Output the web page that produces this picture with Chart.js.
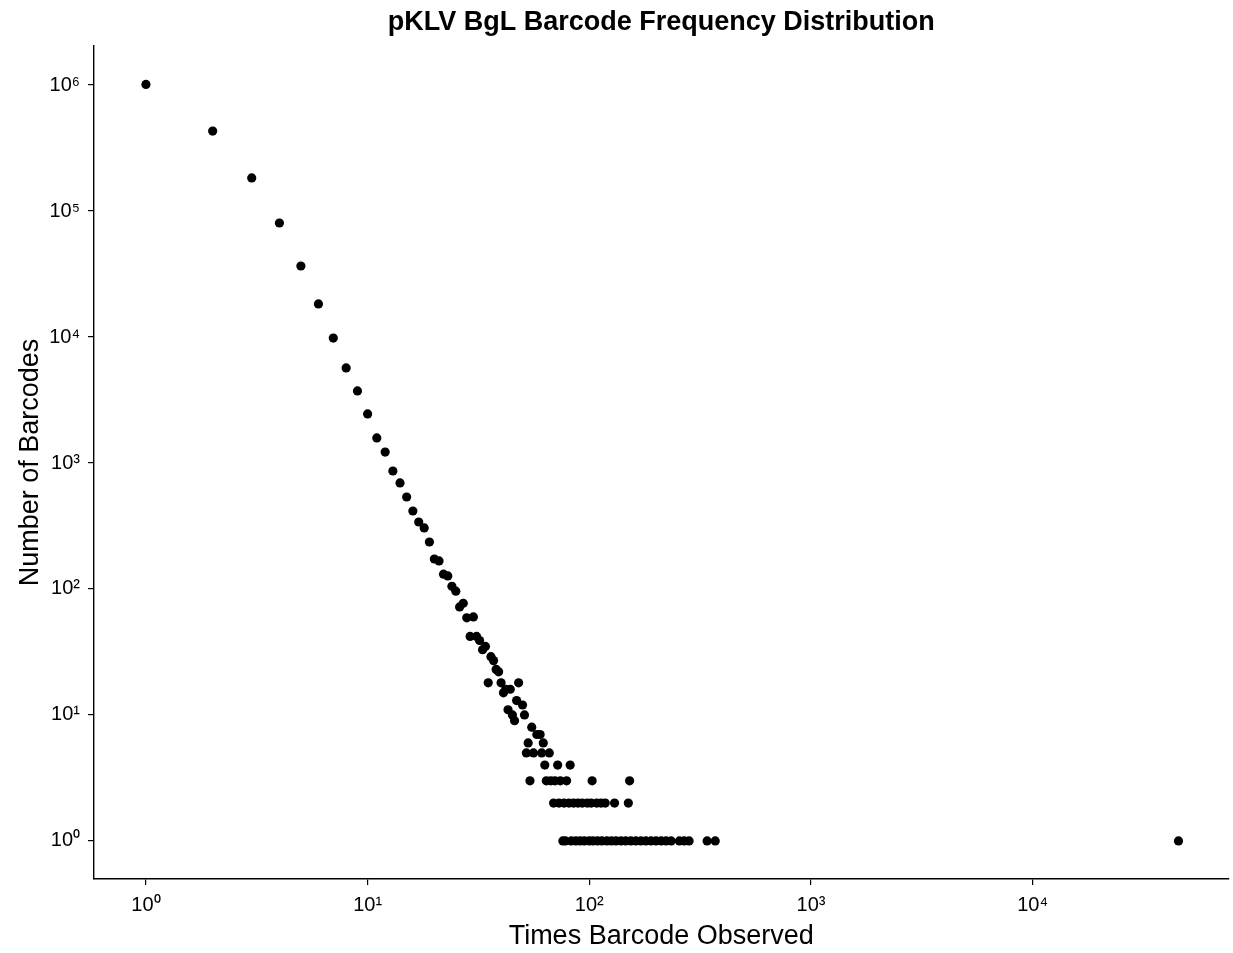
<!DOCTYPE html>
<html>
<head>
<meta charset="utf-8">
<script src="https://cdn.jsdelivr.net/npm/chart.js@4.4.1/dist/chart.umd.min.js"></script>
<style>
    html, body { margin: 0; padding: 0; background: #fff; }
    #wrap { width: 1233px; height: 953px; }
</style>
</head>
<body>
<div id="wrap"><canvas id="freqChart" width="1233" height="953"></canvas></div>
<script>
const plotTitle = 'pKLV BgL Barcode Frequency Distribution';
const xTitle = 'Times Barcode Observed';
const yTitle = 'Number of Barcodes';

// times a barcode was seen -> how many barcodes were seen that often
const timesObserved = [
    1, 2, 3, 4, 5, 6, 7, 8, 9, 10,
    11, 12, 13, 14, 15, 16, 17, 18, 19, 20,
    21, 22, 23, 24, 25, 26, 27, 28, 29, 30,
    31, 32, 33, 34, 35, 36, 37, 38, 39, 40,
    41, 42, 43, 44, 45, 46, 47, 48, 50, 51,
    52, 53, 54, 55, 56, 58, 60, 61, 62, 63,
    64, 66, 67, 69, 70, 72, 73, 74, 76, 77,
    78, 79, 81, 82, 83, 85, 87, 89, 91, 93,
    95, 98, 100, 102, 103, 104, 108, 109, 113, 114,
    118, 120, 126, 130, 132, 139, 146, 150, 152, 154,
    162, 171, 180, 190, 200, 211, 222, 234, 255, 268,
    282, 340, 370, 45500
];
const numBarcodes = [
    1010000, 431000, 183000, 80300, 36600, 18300, 9800, 5680, 3730, 2450,
    1580, 1220, 864, 694, 537, 416, 340, 305, 236, 173,
    167, 131, 127, 105, 96, 72, 77, 59, 42, 60,
    42, 39, 33, 35, 18, 29, 27, 23, 22, 18,
    15, 16, 11, 16, 10, 9, 13, 18, 12, 10,
    5, 6, 3, 8, 5, 7, 7, 5, 6, 4,
    3, 5, 3, 2, 3, 4, 2, 3, 1, 2,
    1, 3, 2, 4, 1, 2, 1, 2, 1, 2,
    1, 2, 1, 2, 3, 1, 2, 1, 2, 1,
    2, 1, 1, 2, 1, 1, 1, 2, 3, 1,
    1, 1, 1, 1, 1, 1, 1, 1, 1, 1,
    1, 1, 1, 1
];

const xTicks = [1, 10, 100, 1000, 10000];
const yTicks = [1, 10, 100, 1000, 10000, 100000, 1000000];

const FONT = '"Liberation Sans", Arial, Helvetica, sans-serif';
const SUP = ['⁰', '¹', '²', '³', '⁴', '⁵', '⁶', '⁷', '⁸', '⁹'];

function powLabel(value) {
    const exp = Math.round(Math.log10(value));
    return '10' + String(exp).split('').map(d => SUP[+d]).join('');
}

// draw the title centred over the panel, like ggplot does
const panelTitle = {
    id: 'panelTitle',
    afterDraw(chart) {
        const { ctx, chartArea } = chart;
        ctx.save();
        ctx.font = 'bold 27px ' + FONT;
        ctx.fillStyle = '#000';
        ctx.textAlign = 'center';
        ctx.textBaseline = 'middle';
        ctx.fillText(plotTitle, (chartArea.left + chartArea.right) / 2, 23);
        ctx.restore();
    }
};

const points = timesObserved.map((t, i) => ({ x: t, y: numBarcodes[i] }));

new Chart(document.getElementById('freqChart'), {
    type: 'scatter',
    data: {
        datasets: [{
            data: points,
            pointRadius: 4.6,
            pointHoverRadius: 4.6,
            pointBackgroundColor: '#000',
            pointBorderWidth: 0
        }]
    },
    options: {
        responsive: false,
        animation: false,
        layout: {
            padding: { top: 46, right: 3, left: 0, bottom: 0 }
        },
        scales: {
            x: {
                type: 'logarithmic',
                min: 0.583,
                max: 76400,
                bounds: 'data',
                afterBuildTicks: scale => {
                    scale.ticks = xTicks.map(v => ({ value: v }));
                },
                afterFit: scale => { scale.height = 74; },
                border: { display: true, color: '#000', width: 1.4 },
                grid: { drawOnChartArea: false, drawTicks: true, tickLength: 6, color: '#000', lineWidth: 1.2 },
                ticks: {
                    color: '#000',
                    padding: 8,
                    maxRotation: 0,
                    font: { family: FONT, size: 20 },
                    callback: v => powLabel(v)
                },
                title: {
                    display: true,
                    text: xTitle,
                    color: '#000',
                    font: { family: FONT, size: 27 },
                    padding: { top: 0, bottom: 0 }
                }
            },
            y: {
                type: 'logarithmic',
                min: 0.499,
                max: 2040000,
                bounds: 'data',
                afterBuildTicks: scale => {
                    scale.ticks = yTicks.map(v => ({ value: v }));
                },
                afterFit: scale => { scale.width = 94; },
                border: { display: true, color: '#000', width: 1.4 },
                grid: { drawOnChartArea: false, drawTicks: true, tickLength: 6, color: '#000', lineWidth: 1.2 },
                ticks: {
                    color: '#000',
                    padding: 8,
                    font: { family: FONT, size: 20 },
                    callback: v => powLabel(v)
                },
                title: {
                    display: true,
                    text: yTitle,
                    color: '#000',
                    font: { family: FONT, size: 27 },
                    padding: { top: 14, bottom: 0 }
                }
            }
        },
        plugins: {
            legend: { display: false },
            tooltip: { enabled: false },
            title: { display: false }
        }
    },
    plugins: [panelTitle]
});
</script>
</body>
</html>
